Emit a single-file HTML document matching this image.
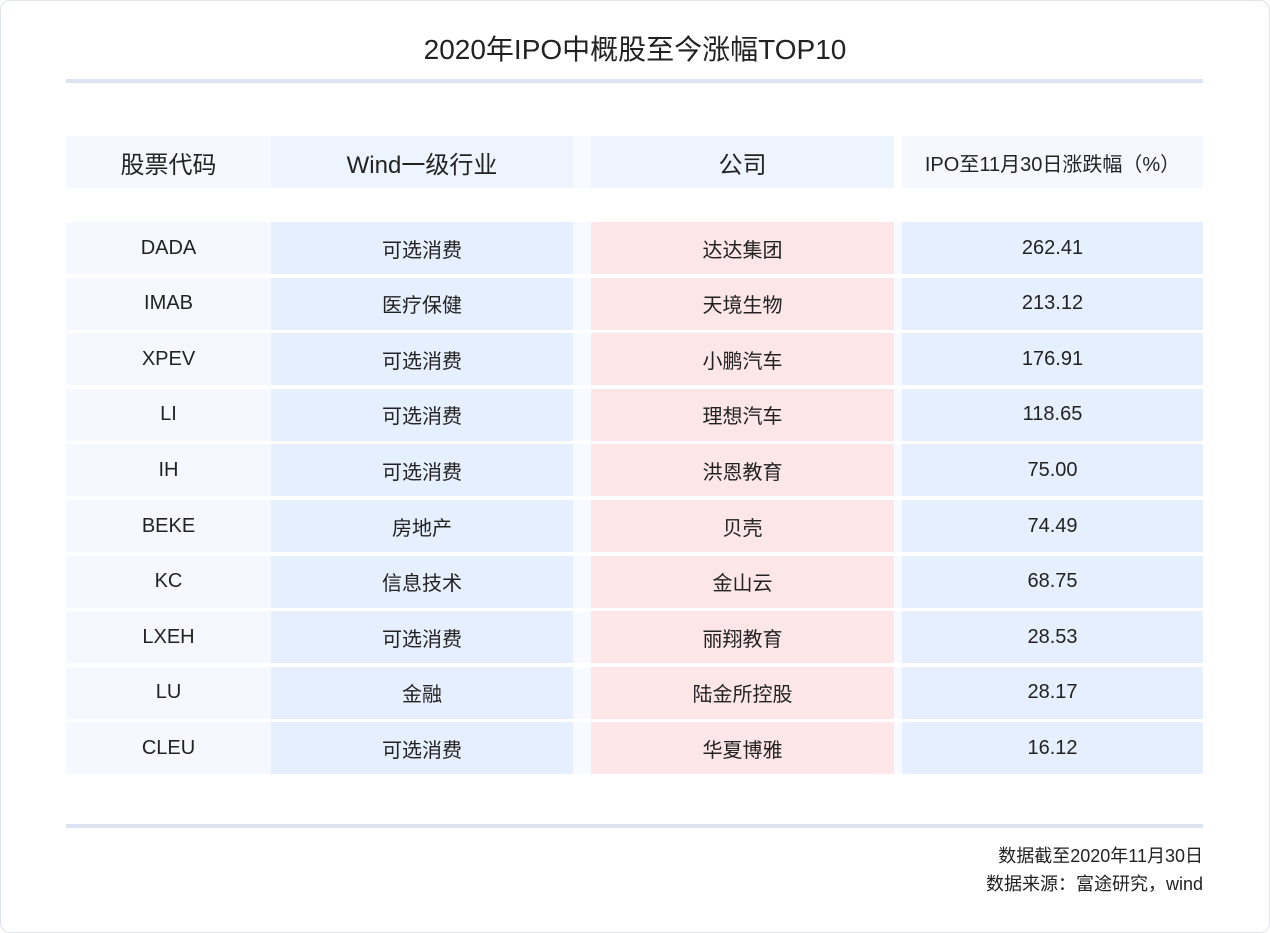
<!DOCTYPE html>
<html><head><meta charset="utf-8"><style>
body{margin:0;width:1270px;height:933px;background:#fff;font-family:"Liberation Sans","Noto Sans CJK SC",sans-serif;color:#222;position:relative;overflow:hidden}
.card{position:absolute;left:0;top:0;width:1268px;height:931px;border:1px solid #dfe3ea;border-radius:10px}
.title{position:absolute;left:0;width:1270px;top:30px;text-align:center;font-size:28px;line-height:40px}
.hl{position:absolute;left:66px;width:1137px;height:4px;background:#dbe4f0}
.c{position:absolute;display:flex;align-items:center;justify-content:center}
.foot{position:absolute;right:67px;font-size:18px;text-align:right;line-height:28px}
</style></head><body>
<div class="card"></div>
<div class="title">2020年IPO中概股至今涨幅TOP10</div>
<div class="hl" style="top:79px"></div>
<div id="tbl"></div>
<div class="hl" style="top:824px"></div>
<div class="foot" style="top:842px">数据截至2020年11月30日</div>
<div class="foot" style="top:870px">数据来源：富途研究，wind</div>
<script>
const headers=["股票代码","Wind一级行业","公司","IPO至11月30日涨跌幅（%）"];
const codes=["DADA","IMAB","XPEV","LI","IH","BEKE","KC","LXEH","LU","CLEU"];
const industries=["可选消费","医疗保健","可选消费","可选消费","可选消费","房地产","信息技术","可选消费","金融","可选消费"];
const companies=["达达集团","天境生物","小鹏汽车","理想汽车","洪恩教育","贝壳","金山云","丽翔教育","陆金所控股","华夏博雅"];
const changes=["262.41","213.12","176.91","118.65","75.00","74.49","68.75","28.53","28.17","16.12"];
const cols=[[66,205],[271,302],[591,303],[902,301]];
const hbg=["#f5f9ff","#eef4fd","#eef4fd","#f5f9ff"];
const bbg=["#f5f9ff","#e5effd","#fde6e7","#e5effd"];
const T=document.getElementById('tbl');
function cell(x,y,w,h,bg,txt,fs,name){const d=document.createElement('div');d.className='c';
d.style.cssText=`left:${x}px;top:${y}px;width:${w}px;height:${h}px;background:${bg};font-size:${fs}px`;
d.textContent=txt;


T.appendChild(d);}
// gap fills
cell(573,136,18,52,"#f7faff","",10,'header-gap');
headers.forEach((h,i)=>cell(cols[i][0],136,cols[i][1],52,hbg[i],h,i==3?20:24,'header-cell'));
const data=[codes,industries,companies,changes];
codes.forEach((c,r)=>{const y=222+r*55.6;
cell(573,y,18,52,"#f7faff","",10,'row-gap');
cell(894,y,8,52,"#f7faff","",10,'row-gap');
data.forEach((arr,i)=>cell(cols[i][0],y,cols[i][1],52,bbg[i],arr[r],20,'table-cell'));});
</script>
</body></html>
